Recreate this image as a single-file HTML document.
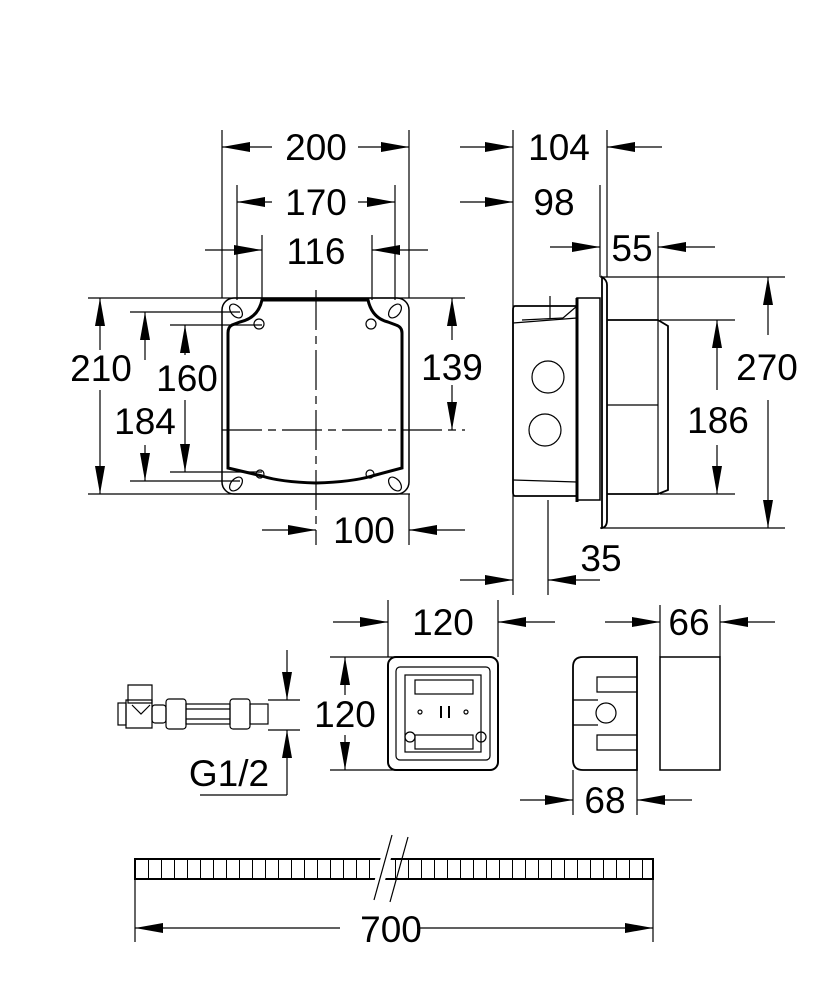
<!DOCTYPE html>
<html><head><meta charset="utf-8"><style>
html,body{margin:0;padding:0;background:#fff}
svg{display:block}
text{font-family:"Liberation Sans",Arial,sans-serif;font-size:37px;fill:#000}
</style></head><body>
<svg width="833" height="1000" viewBox="0 0 833 1000" xmlns="http://www.w3.org/2000/svg">
<defs>
<marker id="a" markerUnits="userSpaceOnUse" markerWidth="30" markerHeight="12" refX="28" refY="5" orient="auto"><path d="M0,0 L28,5 L0,10 z" fill="#000"/></marker>
<pattern id="h" x="135" y="0" width="13" height="20" patternUnits="userSpaceOnUse"><line x1="0.5" y1="0" x2="0.5" y2="20" stroke="#000" stroke-width="1"/></pattern>
</defs>
<g stroke="#000" stroke-width="1.2" fill="none">
<!-- extension lines top-left -->
<line x1="222" y1="130" x2="222" y2="298"/>
<line x1="409" y1="130" x2="409" y2="298"/>
<line x1="237" y1="185" x2="237" y2="300"/>
<line x1="395" y1="185" x2="395" y2="300"/>
<line x1="262" y1="235" x2="262" y2="300"/>
<line x1="372" y1="235" x2="372" y2="300"/>
<!-- 200 -->
<line x1="272" y1="147" x2="222" y2="147" marker-end="url(#a)"/>
<line x1="358" y1="147" x2="409" y2="147" marker-end="url(#a)"/>
<!-- 170 -->
<line x1="272" y1="202" x2="237" y2="202" marker-end="url(#a)"/>
<line x1="358" y1="202" x2="395" y2="202" marker-end="url(#a)"/>
<!-- 116 -->
<line x1="205" y1="250" x2="262" y2="250" marker-end="url(#a)"/>
<line x1="428" y1="250" x2="372" y2="250" marker-end="url(#a)"/>
<!-- horizontals left -->
<line x1="88" y1="298" x2="465" y2="298"/>
<line x1="88" y1="494" x2="410" y2="494"/>
<line x1="130" y1="312" x2="240" y2="312"/>
<line x1="130" y1="481" x2="240" y2="481"/>
<line x1="170" y1="325" x2="262" y2="325"/>
<line x1="170" y1="472" x2="262" y2="472"/>
<line x1="222" y1="430" x2="465" y2="430" stroke-dasharray="40,6,8,6"/>
<line x1="316" y1="290" x2="316" y2="545" stroke-dasharray="40,6,8,6"/>
<line x1="409" y1="494" x2="409" y2="545"/>
<!-- 210 -->
<line x1="100" y1="350" x2="100" y2="298" marker-end="url(#a)"/>
<line x1="100" y1="390" x2="100" y2="494" marker-end="url(#a)"/>
<!-- 184 -->
<line x1="145" y1="360" x2="145" y2="312" marker-end="url(#a)"/>
<line x1="145" y1="445" x2="145" y2="481" marker-end="url(#a)"/>
<!-- 160 -->
<line x1="185" y1="355" x2="185" y2="325" marker-end="url(#a)"/>
<line x1="185" y1="400" x2="185" y2="472" marker-end="url(#a)"/>
<!-- 139 -->
<line x1="452" y1="340" x2="452" y2="298" marker-end="url(#a)"/>
<line x1="452" y1="385" x2="452" y2="430" marker-end="url(#a)"/>
<!-- 100 -->
<line x1="262" y1="530" x2="316" y2="530" marker-end="url(#a)"/>
<line x1="465" y1="530" x2="409" y2="530" marker-end="url(#a)"/>
<!-- box front -->
<rect x="222" y="298" width="187" height="196" rx="12" stroke-width="1.5"/>
<path d="M262,300 Q258,318 240,322 L232,325 Q228,327 228,333 L228,468 L262,476 Q280,482 316,483 Q352,482 372,476 L402,468 L402,333 Q402,327 396,325 L388,322 Q372,318 368,300 Z" stroke-width="3"/>
<ellipse cx="236" cy="311" rx="5" ry="8" transform="rotate(-40 236 311)"/>
<ellipse cx="395" cy="311" rx="5" ry="8" transform="rotate(40 395 311)"/>
<ellipse cx="236" cy="484" rx="5" ry="8" transform="rotate(40 236 484)"/>
<ellipse cx="395" cy="484" rx="5" ry="8" transform="rotate(-40 395 484)"/>
<circle cx="259" cy="324" r="5"/><circle cx="371" cy="324" r="5"/>
<circle cx="260" cy="474" r="4"/><circle cx="370" cy="474" r="4"/>
<!-- side view extension -->
<line x1="513" y1="130" x2="513" y2="595"/>
<line x1="607" y1="130" x2="607" y2="277"/>
<line x1="600" y1="185" x2="600" y2="277"/>
<line x1="658" y1="232" x2="658" y2="320"/>
<line x1="548" y1="500" x2="548" y2="595"/>
<line x1="460" y1="147" x2="513" y2="147" marker-end="url(#a)"/>
<line x1="662" y1="147" x2="607" y2="147" marker-end="url(#a)"/>
<line x1="460" y1="202" x2="513" y2="202" marker-end="url(#a)"/>
<line x1="550" y1="247" x2="600" y2="247" marker-end="url(#a)"/>
<line x1="715" y1="247" x2="658" y2="247" marker-end="url(#a)"/>
<line x1="600" y1="277" x2="785" y2="277"/>
<line x1="600" y1="528" x2="785" y2="528"/>
<line x1="660" y1="320" x2="735" y2="320"/>
<line x1="660" y1="494" x2="735" y2="494"/>
<line x1="768" y1="335" x2="768" y2="277" marker-end="url(#a)"/>
<line x1="768" y1="400" x2="768" y2="528" marker-end="url(#a)"/>
<line x1="717" y1="390" x2="717" y2="320" marker-end="url(#a)"/>
<line x1="717" y1="445" x2="717" y2="494" marker-end="url(#a)"/>
<line x1="460" y1="580" x2="513" y2="580" marker-end="url(#a)"/>
<line x1="600" y1="580" x2="548" y2="580" marker-end="url(#a)"/>
<!-- side view body -->
<path d="M515,306 L577,306 L577,496 L515,496 Q513,496 513,492 L513,310 Q513,306 515,306 Z" stroke-width="1.8"/>
<line x1="577" y1="298" x2="577" y2="502" stroke-width="3"/>
<rect x="577" y="298" width="23" height="202" stroke-width="1.5"/>
<path d="M602,277 Q607,280 607,285 L607,520 Q607,527 602,528 Z" stroke-width="1.8"/>
<path d="M607,320 L658,320 L668,326 L668,490 L658,494 L607,494" stroke-width="1.8"/>
<line x1="607" y1="405" x2="658" y2="405"/>
<line x1="658" y1="320" x2="658" y2="494"/>
<line x1="513" y1="323" x2="577" y2="318"/>
<line x1="522" y1="320" x2="563" y2="318"/>
<line x1="563" y1="318" x2="577" y2="306"/>
<line x1="513" y1="480" x2="577" y2="482"/>
<line x1="550" y1="296" x2="550" y2="318"/>
<circle cx="548" cy="377" r="16"/>
<circle cx="545" cy="430" r="16"/>
<!-- bottom 120 box -->
<line x1="388" y1="600" x2="388" y2="657"/>
<line x1="498" y1="600" x2="498" y2="657"/>
<line x1="333" y1="622" x2="388" y2="622" marker-end="url(#a)"/>
<line x1="555" y1="622" x2="498" y2="622" marker-end="url(#a)"/>
<line x1="330" y1="657" x2="395" y2="657"/>
<line x1="330" y1="770" x2="395" y2="770"/>
<line x1="345" y1="695" x2="345" y2="657" marker-end="url(#a)"/>
<line x1="345" y1="735" x2="345" y2="770" marker-end="url(#a)"/>
<rect x="388" y="657" width="110" height="113" rx="8" stroke-width="2"/>
<rect x="396" y="667" width="94" height="93" rx="4"/>
<rect x="405" y="675" width="76" height="77"/>
<rect x="415" y="680" width="58" height="14"/>
<rect x="415" y="735" width="58" height="14"/>
<circle cx="410" cy="737" r="5"/><circle cx="481" cy="737" r="5"/>
<circle cx="420" cy="712" r="2"/><circle cx="466" cy="712" r="2"/>
<line x1="441" y1="706" x2="441" y2="718" stroke-width="2"/>
<line x1="449" y1="706" x2="449" y2="718" stroke-width="2"/>
<!-- side small -->
<path d="M583,657 L637,657 L637,770 L583,770 Q573,770 573,760 L573,667 Q573,657 583,657 Z" stroke-width="1.8"/>
<path d="M637,677 L597,677 L597,692 L637,692"/>
<path d="M637,735 L597,735 L597,750 L637,750"/>
<path d="M573,700 L598,700 M573,725 L598,725"/>
<circle cx="606" cy="713" r="10"/>
<rect x="660" y="657" width="60" height="113" stroke-width="1.5"/>
<line x1="660" y1="605" x2="660" y2="657"/>
<line x1="720" y1="605" x2="720" y2="657"/>
<line x1="605" y1="622" x2="660" y2="622" marker-end="url(#a)"/>
<line x1="775" y1="622" x2="720" y2="622" marker-end="url(#a)"/>
<line x1="573" y1="770" x2="573" y2="815"/>
<line x1="637" y1="770" x2="637" y2="815"/>
<line x1="520" y1="800" x2="573" y2="800" marker-end="url(#a)"/>
<line x1="692" y1="800" x2="637" y2="800" marker-end="url(#a)"/>
<!-- valve -->
<rect x="118" y="703" width="8" height="22"/>
<path d="M126,700 L152,700 L152,728 L126,728 Z"/>
<path d="M128,685 L152,685 L152,703 L128,703 Z"/>
<path d="M132,705 L141,714 L150,705"/>
<rect x="152" y="705" width="14" height="18" rx="3"/>
<rect x="166" y="699" width="20" height="30" rx="3"/>
<rect x="186" y="704" width="44" height="20"/>
<line x1="186" y1="709" x2="230" y2="709"/><line x1="186" y1="719" x2="230" y2="719"/>
<rect x="230" y="699" width="20" height="30" rx="3"/>
<rect x="250" y="704" width="18" height="20"/>
<line x1="268" y1="700" x2="300" y2="700"/>
<line x1="268" y1="730" x2="300" y2="730"/>
<line x1="287" y1="650" x2="287" y2="700" marker-end="url(#a)"/>
<line x1="287" y1="795" x2="287" y2="730" marker-end="url(#a)"/>
<line x1="200" y1="795" x2="287" y2="795"/>
<!-- 700 bar -->
<rect x="135" y="859" width="518" height="20" fill="url(#h)" stroke-width="2"/>
<line x1="392" y1="835" x2="374" y2="902" stroke="#fff" stroke-width="10"/>
<line x1="392" y1="835" x2="374" y2="900"/>
<line x1="408" y1="837" x2="390" y2="902"/>
<line x1="135" y1="880" x2="135" y2="942"/>
<line x1="653" y1="880" x2="653" y2="942"/>
<line x1="340" y1="928" x2="135" y2="928" marker-end="url(#a)"/>
<line x1="417" y1="928" x2="653" y2="928" marker-end="url(#a)"/>
</g>
<g>
<rect x="68" y="350" width="66" height="36" fill="#fff"/>
<rect x="112" y="405" width="66" height="36" fill="#fff"/>
<rect x="155" y="360" width="64" height="36" fill="#fff"/>
<rect x="418" y="347" width="68" height="36" fill="#fff"/>
<rect x="733" y="347" width="68" height="38" fill="#fff"/>
<rect x="684" y="400" width="68" height="38" fill="#fff"/>
<rect x="312" y="695" width="66" height="38" fill="#fff"/>
<text x="316" y="160" text-anchor="middle">200</text>
<text x="316" y="215" text-anchor="middle">170</text>
<text x="316" y="264" text-anchor="middle">116</text>
<text x="559" y="160" text-anchor="middle">104</text>
<text x="554" y="215" text-anchor="middle">98</text>
<text x="632" y="261" text-anchor="middle">55</text>
<text x="767" y="380" text-anchor="middle">270</text>
<text x="718" y="433" text-anchor="middle">186</text>
<text x="601" y="571" text-anchor="middle">35</text>
<text x="364" y="543" text-anchor="middle">100</text>
<text x="101" y="381" text-anchor="middle">210</text>
<text x="145" y="434" text-anchor="middle">184</text>
<text x="187" y="391" text-anchor="middle">160</text>
<text x="452" y="380" text-anchor="middle">139</text>
<text x="443" y="635" text-anchor="middle">120</text>
<text x="345" y="727" text-anchor="middle">120</text>
<text x="689" y="635" text-anchor="middle">66</text>
<text x="605" y="813" text-anchor="middle">68</text>
<text x="229" y="786" text-anchor="middle">G1/2</text>
<text x="391" y="942" text-anchor="middle">700</text>
</g>
</svg>
</body></html>
